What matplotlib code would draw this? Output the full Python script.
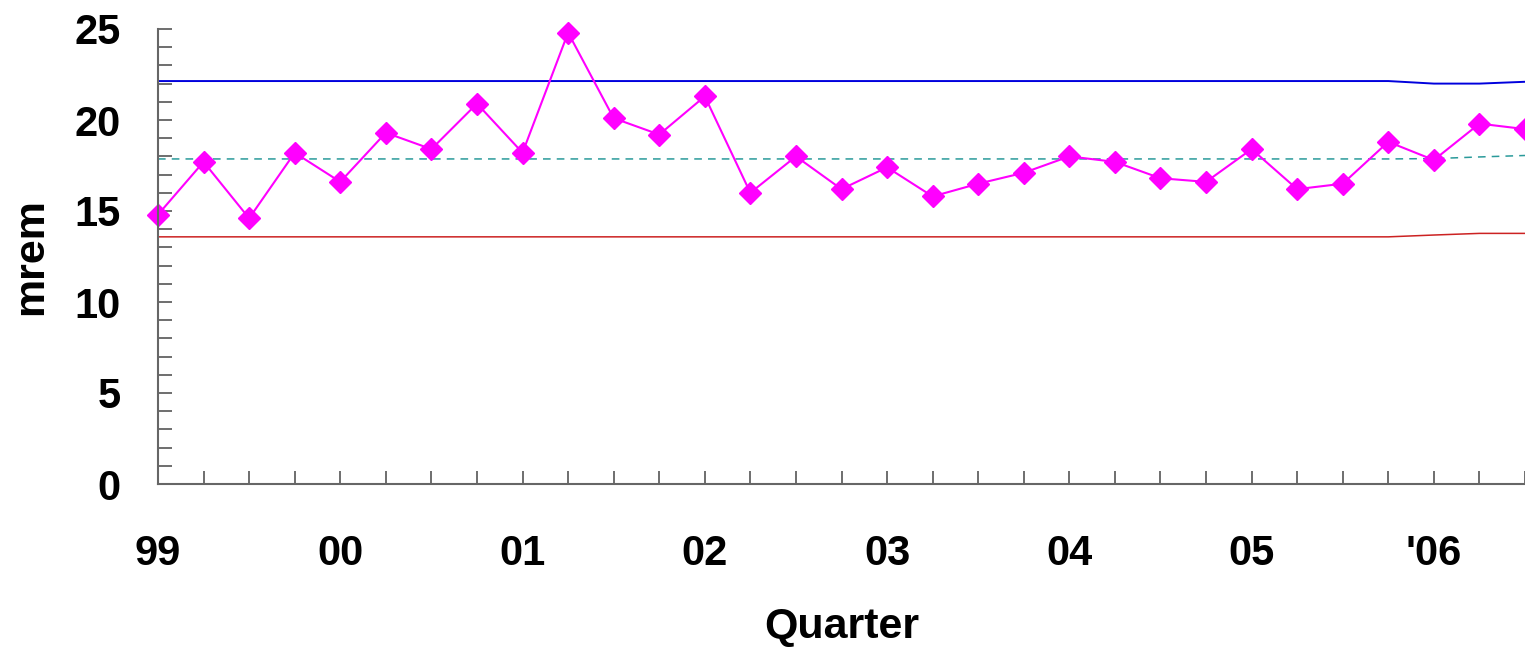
import matplotlib.pyplot as plt
import numpy as np

plt.rcParams['font.family'] = ['Liberation Sans', 'DejaVu Sans']
plt.rcParams['font.weight'] = 'bold'

# quarterly dose, 1999 Q1 .. 2006 Q3
quarter = np.arange(31)
dose = [14.8, 17.7, 14.6, 18.2, 16.6, 19.3, 18.4, 20.9, 18.2, 24.8,
        20.1, 19.2, 21.3, 16.0, 18.0, 16.2, 17.4, 15.8, 16.5, 17.1,
        18.0, 17.7, 16.8, 16.6, 18.4, 16.2, 16.5, 18.8, 17.8, 19.8, 19.5]
upper = [22.14] * 28 + [22.0, 22.0, 22.1]
mean = [17.86] * 28 + [17.88, 17.97, 18.05]
lower = [13.58] * 28 + [13.68, 13.77, 13.77]

year_pos = [0, 4, 8, 12, 16, 20, 24, 28]
year_lbl = ['99', '00', '01', '02', '03', '04', '05', "'06"]

fig = plt.figure(figsize=(15.25, 6.49), dpi=100)
ax = fig.add_axes([158/1525, 1 - 484/649, 1 - 158/1525, (484 - 29)/649])

ax.plot(quarter, upper, color='#0000dd', lw=1.4)
ax.plot(quarter, lower, color='#cc2222', lw=1.1)
ax.plot(quarter, mean, color='#2a9a9a', lw=1.1, dashes=(5, 4))
ax.plot(quarter, dose, color='#ff00ff', lw=1.5, marker='D', ms=11.5,
        clip_on=False)

ax.set_xlim(0, 30)
ax.set_ylim(0, 25)
ax.set_xticks(year_pos)
ax.set_xticklabels(year_lbl)
ax.set_xticks(quarter, minor=True)
ax.set_yticks(np.arange(0, 26, 5))
ax.set_yticks(np.arange(0, 26, 1), minor=True)

for s in ['top', 'right']:
    ax.spines[s].set_visible(False)
for s in ['left', 'bottom']:
    ax.spines[s].set_color('#666666')
    ax.spines[s].set_linewidth(1.5)

ax.tick_params(which='both', direction='in', color='#555555', width=1.2)
ax.tick_params(axis='x', which='both', length=9.5, labelsize=30, pad=36)
ax.tick_params(axis='y', which='both', length=10, labelsize=30, pad=27)

ax.set_xlabel('Quarter', fontsize=31, fontweight='bold', labelpad=24)
ax.set_ylabel('mrem', fontsize=31, fontweight='bold', labelpad=17)

fig.savefig('out.png', dpi=100)
